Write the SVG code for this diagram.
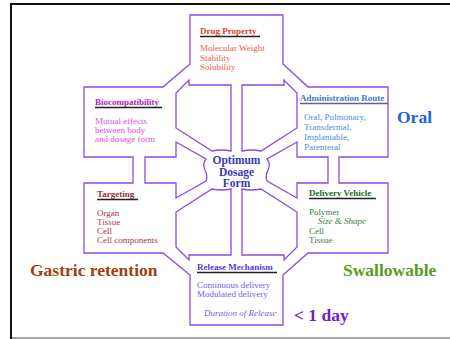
<svg xmlns="http://www.w3.org/2000/svg" width="450" height="339" viewBox="0 0 450 339">
  <style>
    .ol { fill: none; stroke: #8a4ae0; stroke-width: 1.3; stroke-linejoin: miter; }
    text { font-family: "Liberation Serif", "Times New Roman", serif; font-size: 9px; }
    .hd { font-weight: bold; }
    .ul { stroke: #222; stroke-width: 1.4; }
    .big { font-weight: bold; font-size: 17.5px; }
    .core { font-weight: bold; font-size: 11.5px; fill: #3a3ab8; }
  </style>

  <!-- page frame -->
  <rect x="0" y="0" width="450" height="339" fill="#fff"/>
  <line x1="10" y1="4" x2="450" y2="4" stroke="#111" stroke-width="2"/>
  <line x1="11" y1="3" x2="11" y2="339" stroke="#111" stroke-width="2"/>
  <line x1="12" y1="338" x2="450" y2="338" stroke="#8a8a8a" stroke-width="1.5"/>

  <!-- outline: outer boundary and inner islands -->
  <g id="connectors">
    <path class="ol" d="M190,15 H283 V64 L308,87 H388 V157 H339 V183 H388 V253 H308 L283,275 V325 H190 V275 L163,253 H84 V183 H133 V157 H84 V87 H163 L190,64 Z"/>
    <!-- top-left island -->
    <path class="ol" d="M189,80 V85 H231 V151 Q222,149 212,151 L176,128 V93 Z"/>
    <!-- top-right island -->
    <path class="ol" d="M284,80 V85 H242 V151 Q251,149 261,151 L297,128 V93 Z"/>
    <!-- bottom-left island -->
    <path class="ol" d="M189,260 V255 H231 V189 Q222,191 212,189 L176,212 V247 Z"/>
    <!-- bottom-right island -->
    <path class="ol" d="M284,260 V255 H242 V189 Q251,191 261,189 L297,212 V247 Z"/>
    <!-- left arrow island -->
    <path class="ol" d="M145,157 H176 V142 L206,159 Q202,164 205,170 Q208,176 206,181 L176,198 V183 H145 Z"/>
    <!-- right arrow island -->
    <path class="ol" d="M328,157 H297 V142 L267,159 Q271,164 268,170 Q265,176 267,181 L297,198 V183 H328 Z"/>
  </g>

  <g id="drug-property">
    <text class="hd" x="200" y="34" fill="#e0402c">Drug Property</text>
    <line class="ul" x1="200" y1="36.5" x2="260" y2="36.5"/>
    <text x="200" y="51" fill="#f05a48">Molecular Weight</text>
    <text x="200" y="61" fill="#f05a48">Stability</text>
    <text x="200" y="70" fill="#f05a48">Solubility</text>
  </g>

  <g id="biocompatibility">
    <text class="hd" x="95" y="105" fill="#b020c0">Biocompatibility</text>
    <line class="ul" x1="95" y1="107.5" x2="162" y2="107.5"/>
    <text x="95" y="124" fill="#e050e8">Mutual effects</text>
    <text x="95" y="133" fill="#e050e8">between body</text>
    <text x="95" y="142" fill="#e050e8">and dosage form</text>
  </g>

  <g id="administration-route">
    <text class="hd" x="300" y="101" fill="#3a78d0">Administration Route</text>
    <line x1="300" y1="103.5" x2="388" y2="103.5" stroke="#666" stroke-width="1.4"/>
    <text x="304" y="120" fill="#4a8ee0">Oral, Pulmonary,</text>
    <text x="304" y="130" fill="#4a8ee0">Transdermal,</text>
    <text x="304" y="140" fill="#4a8ee0">Implantable,</text>
    <text x="304" y="150" fill="#4a8ee0">Parenteral</text>
    <text class="big" x="397" y="123" font-size="18.5" fill="#2262e0">Oral</text>
  </g>

  <g id="optimum-dosage-form">
    <text class="core" x="236.5" y="164" text-anchor="middle">Optimum</text>
    <text class="core" x="236.5" y="175.5" text-anchor="middle">Dosage</text>
    <text class="core" x="236.5" y="187" text-anchor="middle">Form</text>
  </g>

  <g id="targeting">
    <text class="hd" x="97" y="197" fill="#a02838">Targeting</text>
    <line class="ul" x1="97" y1="199.5" x2="138" y2="199.5"/>
    <text x="97" y="216" fill="#a83848">Organ</text>
    <text x="97" y="225" fill="#a83848">Tissue</text>
    <text x="97" y="234" fill="#a83848">Cell</text>
    <text x="97" y="243" fill="#a83848">Cell components</text>
  </g>

  <g id="delivery-vehicle">
    <text class="hd" x="309" y="196" fill="#2a6a2a">Delivery Vehicle</text>
    <line class="ul" x1="309" y1="198.5" x2="376" y2="198.5"/>
    <text x="309" y="215" fill="#3a7a3a">Polymer</text>
    <text x="318" y="224" font-style="italic" fill="#3a7a3a">Size &amp; Shape</text>
    <text x="309" y="234" fill="#3a7a3a">Cell</text>
    <text x="309" y="243" fill="#3a7a3a">Tissue</text>
  </g>

  <g id="release-mechanism">
    <text class="hd" x="197" y="270" fill="#6034e0">Release Mechanism</text>
    <line class="ul" x1="197" y1="272.5" x2="277" y2="272.5"/>
    <text x="197" y="288" fill="#7858f0">Continuous delivery</text>
    <text x="197" y="297" fill="#7858f0">Modulated delivery</text>
    <text x="204" y="316" font-style="italic" fill="#7858f0">Duration of Release</text>
  </g>

  <g id="annotations">
    <text class="big" x="30" y="276" fill="#a0400e">Gastric retention</text>
    <text class="big" x="343" y="276" fill="#5a9a1e">Swallowable</text>
    <text class="big" x="294" y="321" font-size="18.5" fill="#7020d0">&lt; 1 day</text>
  </g>
</svg>
